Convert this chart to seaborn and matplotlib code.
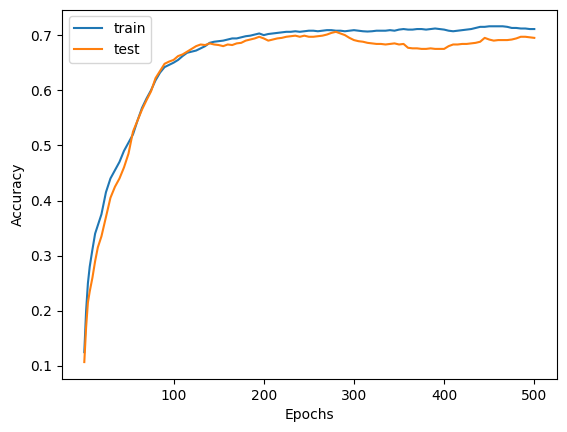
import pandas as pd
import numpy as np
import matplotlib
matplotlib.use("Agg")
import matplotlib.pyplot as plt
import seaborn as sns

# values
epochs = [1, 3, 5, 7, 10, 13, 16, 20] + list(range(25, 501, 5))

train_acc = [0.125, 0.200, 0.250, 0.280, 0.311, 0.340, 0.355, 0.375,
             0.415, 0.440, 0.455, 0.470, 0.490, 0.505, 0.520, 0.545, 0.568, 0.585,
             0.600, 0.618, 0.632, 0.642, 0.646, 0.650, 0.655, 0.662, 0.668, 0.670,
             0.672, 0.676, 0.680, 0.686, 0.688, 0.689, 0.690, 0.692, 0.694, 0.694,
             0.696, 0.698, 0.699, 0.701, 0.703, 0.700, 0.702, 0.703, 0.704, 0.705,
             0.706, 0.706, 0.707, 0.706, 0.707, 0.708, 0.708, 0.707, 0.708, 0.709,
             0.709, 0.708, 0.708, 0.707, 0.708, 0.709, 0.708, 0.707, 0.7065, 0.707,
             0.708, 0.708, 0.708, 0.709, 0.708, 0.710, 0.711, 0.710, 0.710, 0.711,
             0.711, 0.710, 0.711, 0.712, 0.711, 0.710, 0.708, 0.707, 0.708, 0.709,
             0.710, 0.711, 0.713, 0.715, 0.715, 0.716, 0.716, 0.716, 0.716, 0.715,
             0.713, 0.713, 0.712, 0.712, 0.711, 0.711]

test_acc = [0.107, 0.170, 0.215, 0.235, 0.260, 0.290, 0.315, 0.335,
            0.370, 0.405, 0.425, 0.440, 0.460, 0.485, 0.525, 0.545, 0.565, 0.582,
            0.598, 0.622, 0.635, 0.648, 0.652, 0.655, 0.662, 0.665, 0.670, 0.675,
            0.680, 0.683, 0.682, 0.685, 0.683, 0.682, 0.680, 0.683, 0.682, 0.685,
            0.686, 0.690, 0.692, 0.694, 0.697, 0.694, 0.690, 0.692, 0.694, 0.695,
            0.697, 0.698, 0.699, 0.697, 0.699, 0.697, 0.697, 0.698, 0.699, 0.701,
            0.704, 0.706, 0.703, 0.700, 0.695, 0.691, 0.689, 0.688, 0.686, 0.685,
            0.684, 0.684, 0.683, 0.684, 0.685, 0.683, 0.684, 0.677, 0.676, 0.676,
            0.675, 0.675, 0.676, 0.675, 0.675, 0.675, 0.680, 0.683, 0.683, 0.684,
            0.684, 0.685, 0.686, 0.688, 0.695, 0.692, 0.690, 0.691, 0.691, 0.691,
            0.692, 0.694, 0.697, 0.697, 0.696, 0.695]

fig, ax = plt.subplots(figsize=(5.67, 4.32), dpi=100)
fig.subplots_adjust(left=0.109, right=0.982, bottom=0.123, top=0.978)

sns.lineplot(x=epochs, y=train_acc, ax=ax, color="#1f77b4", label="train")
sns.lineplot(x=epochs, y=test_acc, ax=ax, color="#ff7f0e", label="test")

ax.set_xticks([100, 200, 300, 400, 500])
ax.set_yticks([0.1, 0.2, 0.3, 0.4, 0.5, 0.6, 0.7])
ax.set_xlabel("Epochs")
ax.set_ylabel("Accuracy")
ax.legend(loc="upper left")

plt.savefig("out.png")
